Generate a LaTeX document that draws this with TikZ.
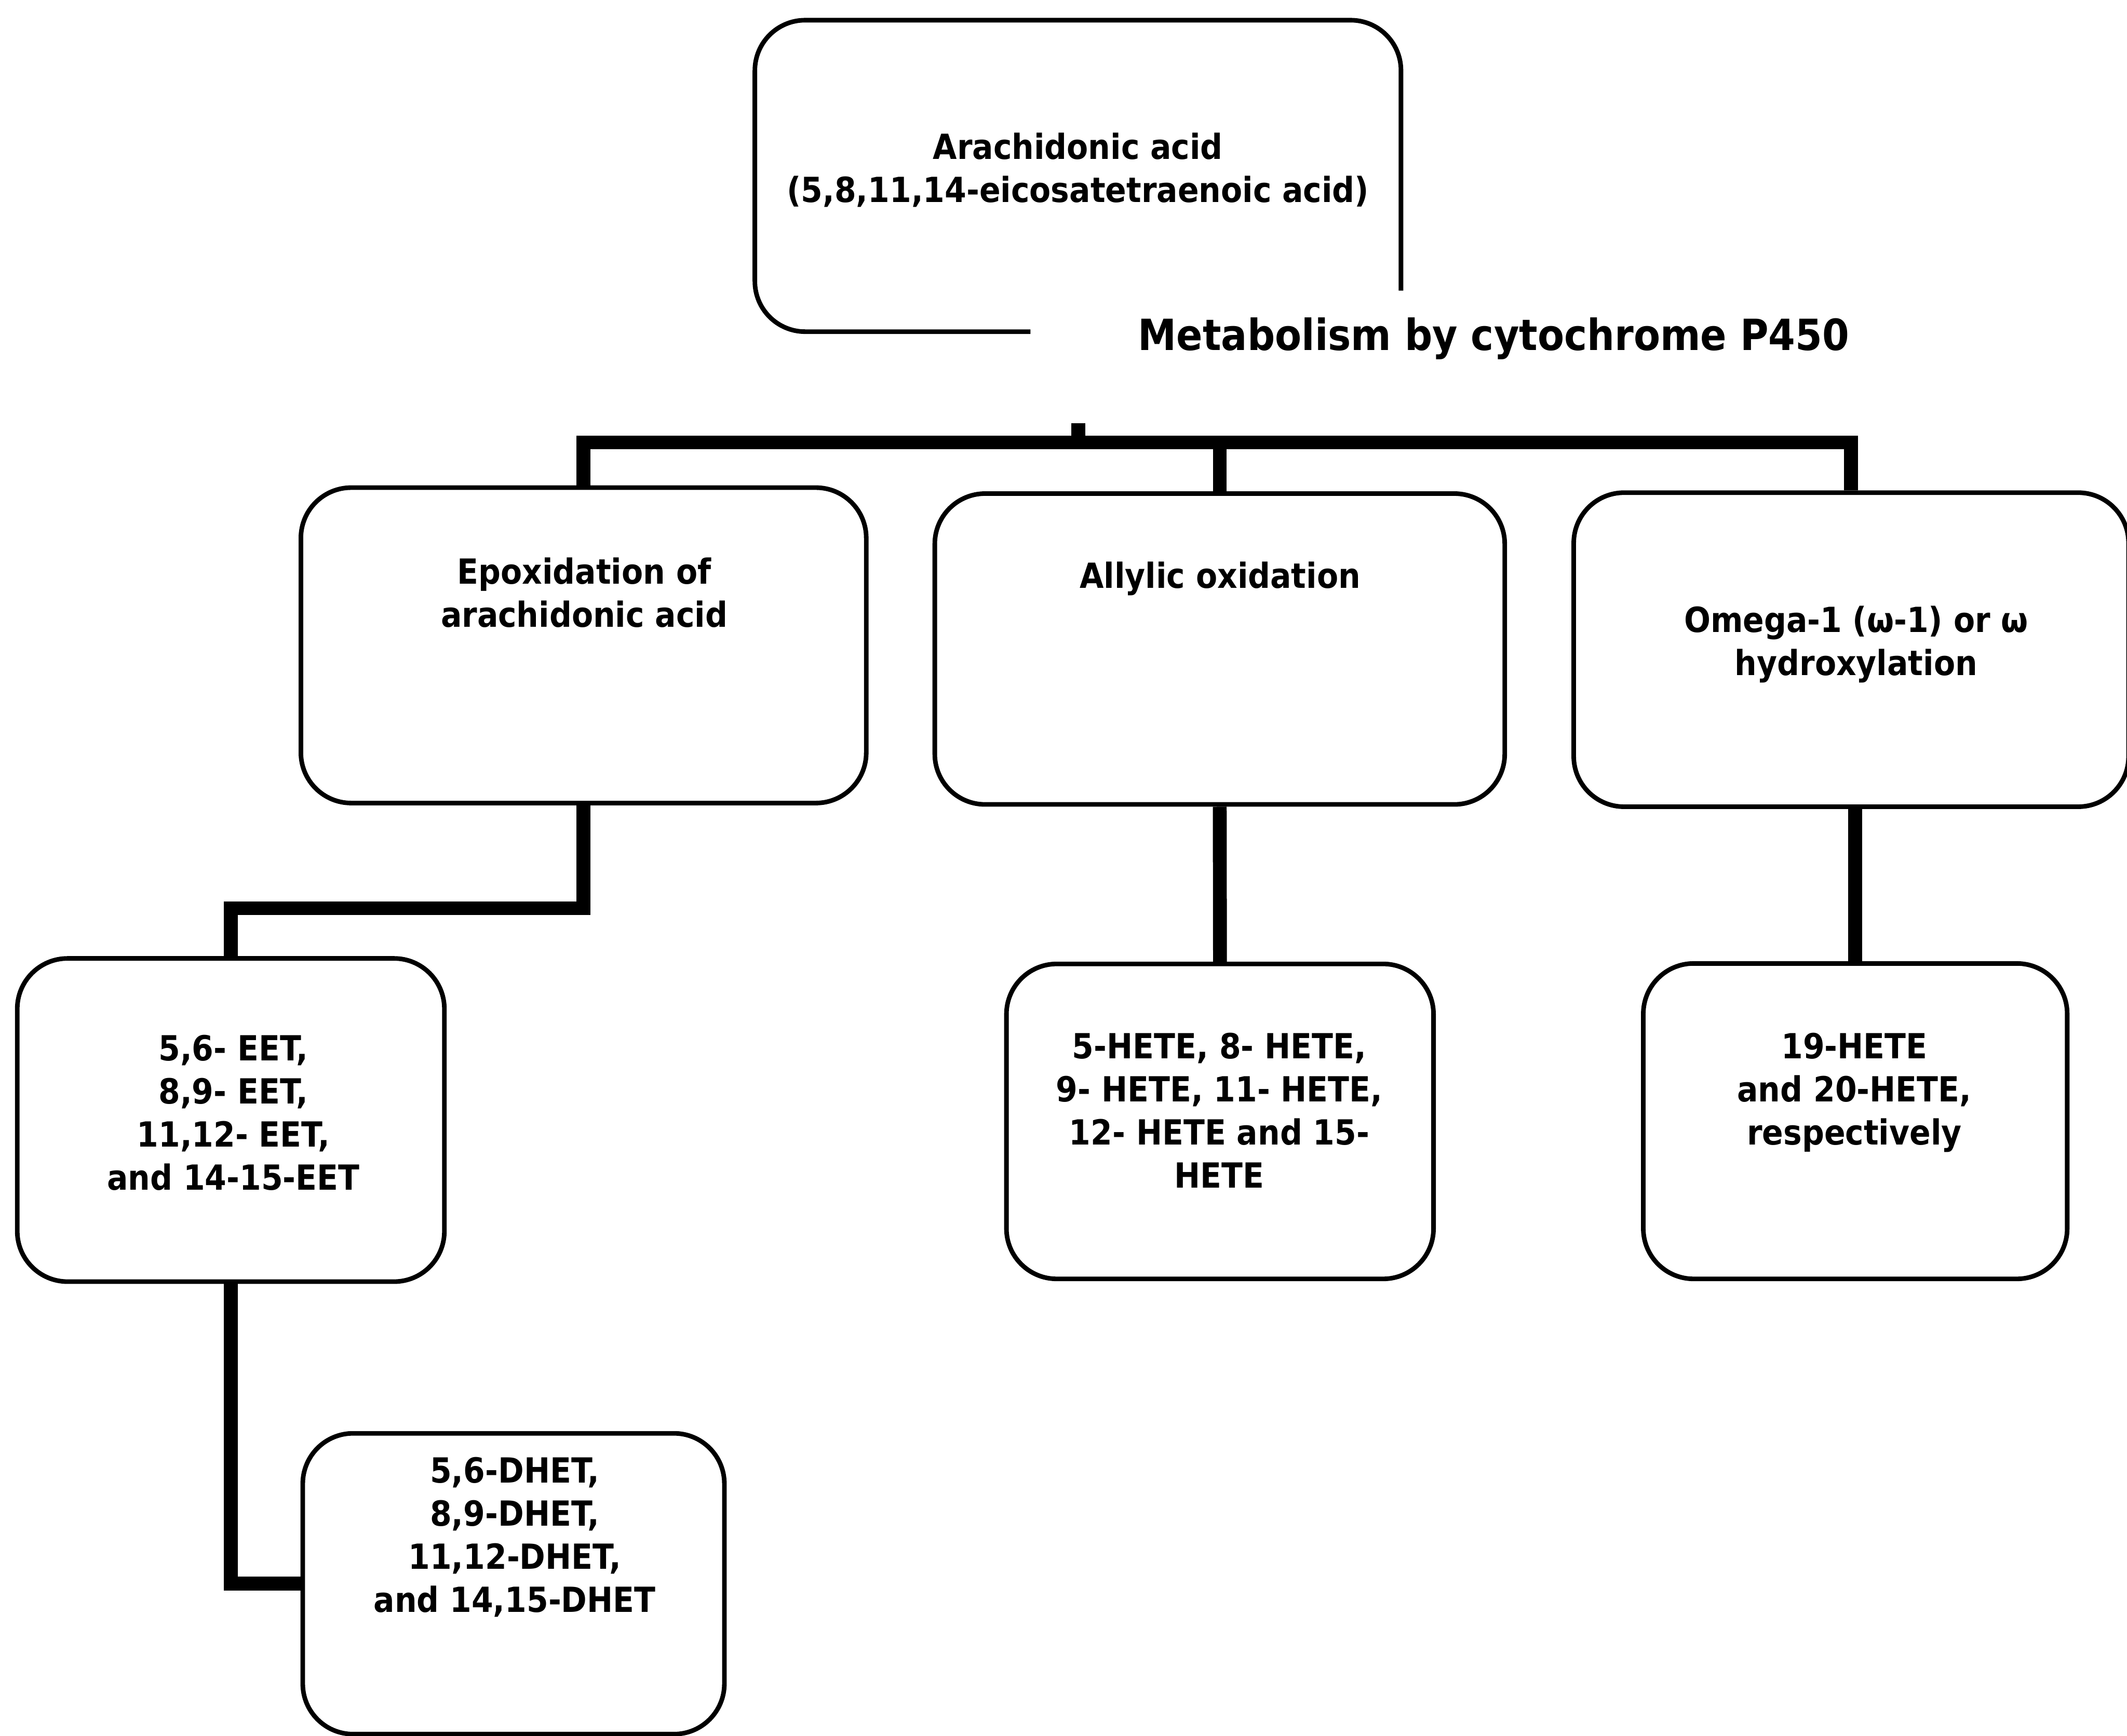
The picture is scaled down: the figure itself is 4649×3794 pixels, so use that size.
\documentclass[tikz,border=0pt]{standalone}
\usepackage{fontspec}
\setmainfont{DejaVu Sans Condensed}[BoldFont={DejaVu Sans Condensed Bold}]
\begin{document}
\begin{tikzpicture}[x=0.01cm, y=-0.01cm,
  boxline/.style={line width=2.85pt, rounded corners=1.1cm},
  flowbox/.style={draw, boxline, inner sep=0pt},
  conn/.style={line width=8.6pt},
  txt/.style={font=\bfseries\fontsize{21.5}{26.8}\selectfont, align=center, anchor=base, inner sep=0pt},
  ttl/.style={font=\bfseries\fontsize{26.7}{32}\selectfont, anchor=base west, inner sep=0pt}]
\useasboundingbox (0,0) rectangle (4649,3794);

% top box (partially outlined)
\node[inner sep=0pt, minimum width=14.10cm, minimum height=6.79cm] (aa) at (2356,384.5) {};
\draw[boxline] ([yshift=-2.505cm]aa.east) -- (aa.north east) -- (aa.north west) -- (aa.south west) -- ([xshift=6.02cm]aa.south west);
\node[txt] (aat) at (2356,442) {Arachidonic acid\\(5,8,11,14-eicosatetraenoic acid)};
\node[ttl] (met) at (2487,765) {Metabolism by cytochrome P450};

% second level
\node[flowbox, minimum width=12.35cm, minimum height=6.89cm] (epox) at (1275.5,1410.5) {};
\node[flowbox, minimum width=12.45cm, minimum height=6.79cm] (allyl) at (2666,1418.5) {};
\node[flowbox, minimum width=12.12cm, minimum height=6.86cm] (omega) at (4046,1420) {};
\node[txt] (epoxt) at (1277,1371) {Epoxidation of\\arachidonic acid};
\node[txt] (allylt) at (2667,1285) {Allylic oxidation};
\node[txt] (omegat) at (4057,1476) {Omega-1 (ω-1) or ω\\hydroxylation};

% third level
\node[flowbox, minimum width=9.33cm, minimum height=7.06cm] (eet) at (504.5,2448) {};
\node[flowbox, minimum width=9.33cm, minimum height=6.88cm] (hete) at (2666.5,2451) {};
\node[flowbox, minimum width=9.26cm, minimum height=6.89cm] (h19) at (4055,2450.5) {};
\node[txt] (eett) at (510,2601) {5,6- EET,\\8,9- EET,\\11,12- EET,\\and 14-15-EET};
\node[txt] (hetet) at (2665,2596) {5-HETE, 8- HETE,\\9- HETE, 11- HETE,\\12- HETE and 15-\\HETE};
\node[txt] (h19t) at (4053,2502) {19-HETE\\and 20-HETE,\\respectively};

% fourth level
\node[flowbox, minimum width=9.21cm, minimum height=6.57cm] (dhet) at (1122.5,3461.5) {};
\node[txt] (dhett) at (1125,3524) {5,6-DHET,\\8,9-DHET,\\11,12-DHET,\\and 14,15-DHET};

% connectors
\coordinate (bus) at (2357,967);
\coordinate (stubtop) at (2357,925);
\coordinate (ebend) at (0,1985);
\draw[conn] (stubtop) -- (bus);
\draw[conn] (epox.north) |- (bus) -| (omega.north);
\draw[conn] (allyl.north) -- (allyl.north |- bus);
\draw[conn] (epox.south) |- (ebend -| eet.north) -- (eet.north);
\draw[conn] (eet.south) |- (dhet.west);
\draw[conn] (allyl.south) -- (hete.north);
\draw[conn] (h19.north |- omega.south) -- (h19.north);
\end{tikzpicture}
\end{document}
